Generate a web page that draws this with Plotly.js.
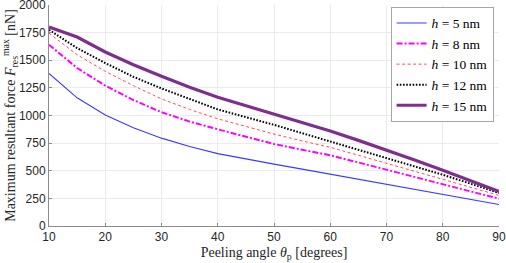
<!DOCTYPE html>
<html><head><meta charset="utf-8">
<script src="https://cdn.plot.ly/plotly-3.0.1.min.js"></script>
<style>html,body{margin:0;padding:0;background:#fff}#c{width:506px;height:263px}</style>
</head><body><div id="c"></div>
<script>
const angles = [10,15,20,25,30,35,40,45,50,55,60,65,70,75,80,85,90];
const h5  = [1380,1160,1005,890,795,720,655,605,560,515,470,425,380,333,285,240,194];
const h8  = [1640,1430,1270,1140,1030,945,875,810,742,690,640,575,510,445,378,312,247];
const h10 = [1745,1550,1400,1270,1150,1055,970,900,832,770,712,640,567,495,422,350,277];
const h12 = [1775,1610,1475,1350,1245,1150,1055,985,916,840,765,693,620,542,464,382,299];
const h15 = [1800,1710,1575,1460,1355,1255,1165,1088,1012,937,860,775,690,598,505,410,313];
const names = ['<i>h</i> = 5 nm','<i>h</i> = 8 nm','<i>h</i> = 10 nm','<i>h</i> = 12 nm','<i>h</i> = 15 nm'];
const yTicks = [0,250,500,750,1000,1250,1500,1750,2000];
const xTicks = [10,20,30,40,50,60,70,80,90];

const styles = [
  {color:'#3a3aff', width:1.1, dash:'solid'},
  {color:'#ff00ff', width:2, dash:'6px,2px,2px,2px'},
  {color:'#ff5050', width:1, dash:'3px,2.5px'},
  {color:'#000000', width:2, dash:'1.6px,1.6px'},
  {color:'#7e2f8e', width:3.2, dash:'solid'}
];
const series = [h5,h8,h10,h12,h15];
const traces = series.map((s,i)=>({
  x: angles, y: s, type:'scatter', mode:'lines', name: names[i],
  line: styles[i]
}));

const serif = 'Liberation Serif, Times New Roman, serif';
const layout = {
  width:506, height:263,
  margin:{l:49, r:7, t:5, b:37},
  paper_bgcolor:'#fff', plot_bgcolor:'#fff',
  showlegend:true,
  legend:{x:0.988, y:0.992, xanchor:'right', yanchor:'top',
    bgcolor:'#fff', bordercolor:'#a6a6a6', borderwidth:1,
    font:{family:serif, size:13.5, color:'#000'},
    tracegroupgap:0, itemwidth:30},
  xaxis:{range:[10,90], tickvals:xTicks, ticktext:xTicks.map(String),
    showgrid:true, gridcolor:'#ebebeb', zeroline:false,
    showline:true, linecolor:'#8c8c8c', linewidth:1,
    ticks:'inside', ticklen:3, tickcolor:'#8c8c8c', ticklabeloverflow:'allow',
    tickfont:{family:'Liberation Sans, Arial, sans-serif', size:12, color:'#262626'},
    title:{text:'Peeling angle <i>θ</i><sub>p</sub> [degrees]', standoff:3,
      font:{family:serif, size:14, color:'#262626'}}},
  yaxis:{range:[0,2000], tickvals:yTicks, ticktext:yTicks.map(String),
    showgrid:true, gridcolor:'#ebebeb', zeroline:false,
    showline:true, linecolor:'#8c8c8c', linewidth:1,
    ticks:'inside', ticklen:3, tickcolor:'#8c8c8c', ticklabeloverflow:'allow',
    tickfont:{family:'Liberation Sans, Arial, sans-serif', size:12, color:'#262626'},
    title:{text:'Maximum resultant force <i>F</i><sub>res</sub><sup>max</sup> [nN]', standoff:5,
      font:{family:serif, size:14, color:'#262626'}}}
};
Plotly.newPlot('c', traces, layout, {displayModeBar:false, staticPlot:true});
</script></body></html>
